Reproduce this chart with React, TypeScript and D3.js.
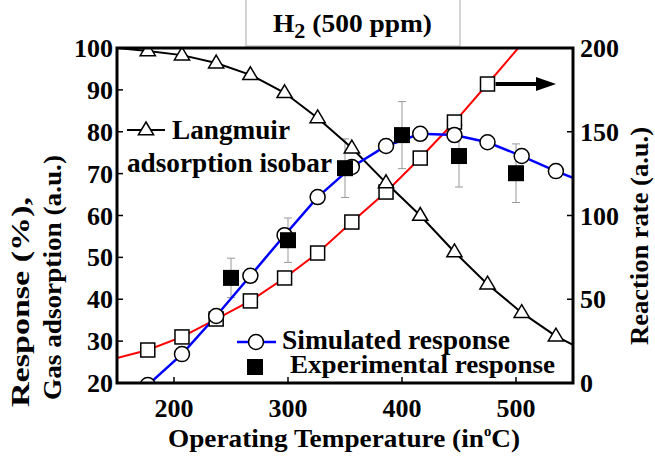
import React from "react";
import * as d3 from "d3";

// simulated temperatures (deg C) for the model curves
const simTemps = [177, 207, 237, 267, 297, 326, 356, 386, 416, 446, 475, 505, 535];
const langmuir = [99.3, 98.3, 96.4, 93.6, 89.3, 83.3, 76.1, 67.8, 60.0, 51.3, 43.6, 36.8, 31.2];
const simulated = [19.5, 26.9, 36.0, 45.6, 55.3, 64.4, 71.6, 76.6, 79.5, 79.2, 77.5, 74.2, 70.6];
const rateTemps = [177, 207, 237, 267, 297, 326, 356, 386, 416, 446, 475];
const rate = [19.7, 27.5, 38.2, 49.0, 62.7, 77.6, 96.1, 114.0, 134.3, 155.8, 178.5];

// where the lines leave the frame
const langmuirEdges = [[150, 100], [550, 29.1]];
const simulatedEdge = [550, 69.0];
const rateEdges = [[150, 14.9], [502, 200]];

const expTemps = [250, 300, 350, 400, 450, 500];
const expValues = [45.1, 54.1, 71.3, 79.2, 74.2, 70.1];
const expErrors = [4.7, 5.3, 7.0, 8.0, 7.4, 7.0];

const xTicks = [200, 300, 400, 500];
const leftTicks = [20, 30, 40, 50, 60, 70, 80, 90, 100];
const rightTicks = [0, 50, 100, 150, 200];

const W = 655;
const H = 461;
const left = 117, right = 573, top = 48, bottom = 383;

const font = "Liberation Serif, Times New Roman, serif";

const App: React.FC = () => {
  const x = d3.scaleLinear().domain([150, 550]).range([left, right]);
  const y = d3.scaleLinear().domain([20, 100]).range([bottom, top]);
  const y2 = d3.scaleLinear().domain([0, 200]).range([bottom, top]);

  const line = d3.line<number[]>().x((d) => x(d[0])).y((d) => y(d[1]));
  const line2 = d3.line<number[]>().x((d) => x(d[0])).y((d) => y2(d[1]));

  const langPts = [langmuirEdges[0], ...simTemps.map((t, i) => [t, langmuir[i]]), langmuirEdges[1]];
  const simPts = [...simTemps.map((t, i) => [t, simulated[i]]), simulatedEdge];
  const ratePts = [rateEdges[0], ...rateTemps.map((t, i) => [t, rate[i]]), rateEdges[1]];

  const tri = (cx: number, cy: number, s = 8) =>
    `M${cx},${cy - s} L${cx + s * 0.95},${cy + s * 0.6} L${cx - s * 0.95},${cy + s * 0.6} Z`;

  const arrowY = y2(rate[rate.length - 1]);
  const arrowX0 = x(rateTemps[rateTemps.length - 1]) + 8;
  const arrowX1 = 556;

  return (
    <svg width={W} height={H} style={{ position: "absolute", left: 0, top: 0, background: "#fff", fontFamily: font, fontWeight: "bold" }}>
      <defs>
        <clipPath id="plot">
          <rect x={left} y={top} width={right - left} height={bottom - top} />
        </clipPath>
      </defs>

      {/* title box */}
      <rect x={246} y={-1} width={214} height={47} fill="none" stroke="#aaa" strokeWidth={1} />
      <text x={273} y={32} fontSize={26} textLength={159} lengthAdjust="spacingAndGlyphs">
        H<tspan dy={6} fontSize={21}>2</tspan>
        <tspan dy={-6}> (500 ppm)</tspan>
      </text>

      {/* error bars */}
      {expTemps.map((t, i) => {
        const cx = x(t);
        const y0 = y(expValues[i] - expErrors[i]);
        const y1 = y(expValues[i] + expErrors[i]);
        return (
          <g key={"e" + i} stroke="#999" strokeWidth={1}>
            <line x1={cx} x2={cx} y1={y0} y2={y1} />
            <line x1={cx - 4} x2={cx + 4} y1={y0} y2={y0} />
            <line x1={cx - 4} x2={cx + 4} y1={y1} y2={y1} />
          </g>
        );
      })}

      <g clipPath="url(#plot)">
        <path d={line2(ratePts) || ""} fill="none" stroke="#ff0000" strokeWidth={2} />
        <path d={line(langPts) || ""} fill="none" stroke="#000" strokeWidth={2} />
        <path d={line(simPts) || ""} fill="none" stroke="#0000ff" strokeWidth={2.5} />

        {rateTemps.map((t, i) => (
          <rect key={"r" + i} x={x(t) - 7} y={y2(rate[i]) - 7} width={14} height={14} fill="#fff" stroke="#000" strokeWidth={1.5} />
        ))}
        {simTemps.map((t, i) => (
          <path key={"l" + i} d={tri(x(t), y(langmuir[i]))} fill="#fff" stroke="#000" strokeWidth={1.5} />
        ))}
        {simTemps.map((t, i) => (
          <circle key={"s" + i} cx={x(t)} cy={y(simulated[i])} r={7.5} fill="#fff" stroke="#000" strokeWidth={1.5} />
        ))}
        {expTemps.map((t, i) => (
          <rect key={"x" + i} x={x(t) - 8} y={y(expValues[i]) - 8} width={16} height={16} fill="#000" />
        ))}
      </g>

      {/* arrow to right axis */}
      <line x1={arrowX0} x2={arrowX1 - 16} y1={arrowY} y2={arrowY} stroke="#000" strokeWidth={4} />
      <path d={`M${arrowX1},${arrowY} L${arrowX1 - 20},${arrowY - 7} L${arrowX1 - 20},${arrowY + 7} Z`} fill="#000" />

      {/* frame */}
      <rect x={left} y={top} width={right - left} height={bottom - top} fill="none" stroke="#000" strokeWidth={3} />

      {/* ticks */}
      {xTicks.map((t) => (
        <g key={"xt" + t}>
          <line x1={x(t)} x2={x(t)} y1={bottom} y2={bottom - 6} stroke="#000" strokeWidth={1.5} />
          <text x={x(t)} y={bottom + 34} textAnchor="middle" fontSize={26}>{t}</text>
        </g>
      ))}
      {leftTicks.map((t) => (
        <g key={"yt" + t}>
          {t !== 20 && t !== 100 && <line x1={left} x2={left + 6} y1={y(t)} y2={y(t)} stroke="#000" strokeWidth={1.5} />}
          <text x={left - 4} y={y(t) + 9} textAnchor="end" fontSize={26}>{t}</text>
        </g>
      ))}
      {rightTicks.map((t) => (
        <g key={"y2t" + t}>
          {t !== 0 && t !== 200 && <line x1={right} x2={right - 6} y1={y2(t)} y2={y2(t)} stroke="#000" strokeWidth={1.5} />}
          <text x={right + 7} y={y2(t) + 9} textAnchor="start" fontSize={26}>{t}</text>
        </g>
      ))}

      {/* axis titles */}
      <text transform="translate(29,407) rotate(-90)" fontSize={26} textLength={210} lengthAdjust="spacingAndGlyphs">Response (%),</text>
      <text transform="translate(61,400) rotate(-90)" fontSize={26} textLength={245} lengthAdjust="spacingAndGlyphs">Gas adsorption (a.u.)</text>
      <text transform="translate(648,345) rotate(-90)" fontSize={26} textLength={218} lengthAdjust="spacingAndGlyphs">Reaction rate (a.u.)</text>
      <text x={168} y={447} fontSize={26} textLength={352} lengthAdjust="spacingAndGlyphs">
        Operating Temperature (in<tspan dy={-11} fontSize={14}>o</tspan>
        <tspan dy={11}>C)</tspan>
      </text>

      {/* legends */}
      <line x1={127} x2={165} y1={130} y2={130} stroke="#000" strokeWidth={2} />
      <path d={tri(146, 130)} fill="#fff" stroke="#000" strokeWidth={1.5} />
      <text x={172} y={139} fontSize={27} textLength={118} lengthAdjust="spacingAndGlyphs">Langmuir</text>
      <text x={127} y={172} fontSize={27} textLength={205} lengthAdjust="spacingAndGlyphs">adsorption isobar</text>

      <line x1={237} x2={276} y1={342} y2={342} stroke="#0000ff" strokeWidth={2.5} />
      <circle cx={256} cy={342} r={7.5} fill="#fff" stroke="#000" strokeWidth={1.5} />
      <text x={282} y={349} fontSize={27} textLength={228} lengthAdjust="spacingAndGlyphs">Simulated response</text>

      <rect x={247} y={359} width={16} height={16} fill="#000" />
      <text x={290} y={373} fontSize={26} textLength={265} lengthAdjust="spacingAndGlyphs">Experimental response</text>
    </svg>
  );
};

export default App;
